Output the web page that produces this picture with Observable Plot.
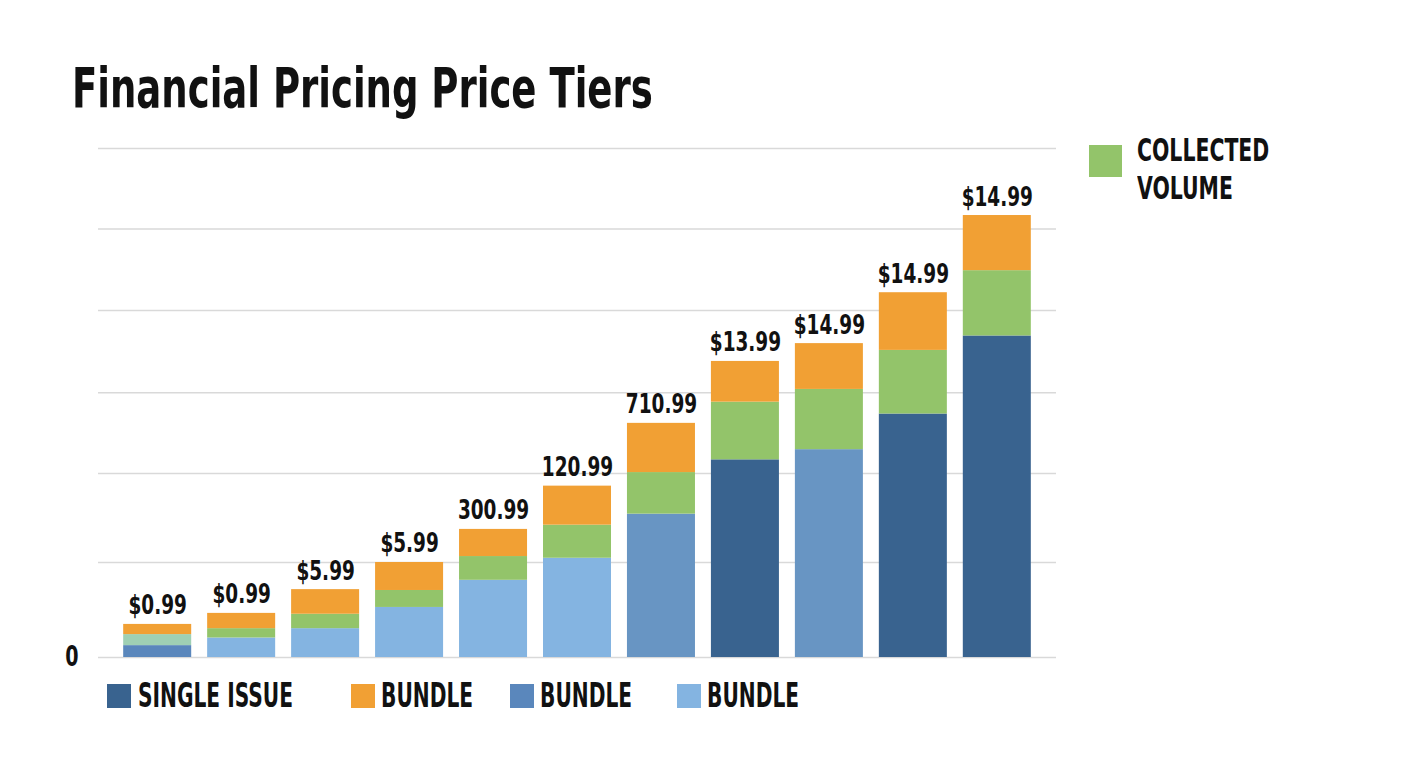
<!DOCTYPE html>
<html>
<head>
<meta charset="utf-8">
<script src="https://cdn.jsdelivr.net/npm/d3@7"></script>
<script src="https://cdn.jsdelivr.net/npm/@observablehq/plot@0.6"></script>
<style>
  html, body { margin: 0; padding: 0; background: #ffffff; }
  body { width: 1408px; height: 768px; position: relative; overflow: hidden;
         font-family: "DejaVu Sans Condensed", "Liberation Sans", sans-serif; font-weight: bold; color: #111; }
  .sq { display: inline-block; transform-origin: 0 0; white-space: nowrap; }
  #title { position: absolute; left: 72px; top: 60px; font-size: 56px; line-height: 1; transform: scaleX(0.735); }
  #chart { position: absolute; left: 0; top: 130px; }
  .sw { position: absolute; }
  .lt { position: absolute; font-size: 34px; line-height: 1; transform: scaleX(0.66); }
  .rt { position: absolute; font-size: 32px; line-height: 1; transform: scaleX(0.71); }
</style>
</head>
<body>
<div id="title" class="sq"></div>
<div id="chart"></div>
<div id="legends"></div>
<script>
// ---- data ----
const tiers = ["T1","T2","T3","T4","T5","T6","T7","T8","T9","T10","T11"];
const priceLabels = ["$0.99","$0.99","$5.99","$5.99","300.99","120.99","710.99","$13.99","$14.99","$14.99","$14.99"];
const baseValues   = [0.14, 0.23, 0.34, 0.59, 0.91, 1.17, 1.69, 2.33, 2.45, 2.87, 3.79];
const volumeValues = [0.13, 0.11, 0.17, 0.20, 0.28, 0.39, 0.49, 0.68, 0.71, 0.75, 0.77];
const bundleValues = [0.12, 0.18, 0.29, 0.33, 0.32, 0.46, 0.58, 0.48, 0.54, 0.68, 0.65];
const baseShade   = ["mid","light","light","light","light","light","medium","dark","medium","dark","dark"];
const volumeShade = ["teal","green","green","green","green","green","green","green","green","green","green"];
const gridTicks = [0, 1.12, 2.17, 3.12, 4.09, 5.05, 6];
const palette = {
  dark: "#39638f", medium: "#6895c3", mid: "#5a87bc", light: "#84b4e1",
  green: "#93c46a", teal: "#9fd0b4", orange: "#f1a034"
};
const bottomLegend = [
  {label: "SINGLE ISSUE", key: "dark"},
  {label: "BUNDLE", key: "orange"},
  {label: "BUNDLE", key: "mid"},
  {label: "BUNDLE", key: "light"}
];
const rightLegend = {label: ["COLLECTED", "VOLUME"], key: "green"};
const titleText = "Financial Pricing Price Tiers";

// ---- build table ----
const rows = [];
tiers.forEach((t, i) => {
  rows.push({tier: t, order: 0, value: baseValues[i], color: palette[baseShade[i]]});
  rows.push({tier: t, order: 1, value: volumeValues[i], color: palette[volumeShade[i]]});
  rows.push({tier: t, order: 2, value: bundleValues[i], color: palette.orange});
});
const totals = tiers.map((t, i) => ({tier: t, total: baseValues[i] + volumeValues[i] + bundleValues[i], label: priceLabels[i]}));

const FONT = `"DejaVu Sans Condensed", "Liberation Sans", sans-serif`;

const chart = Plot.plot({
  width: 1408,
  height: 545,
  marginLeft: 98,
  marginRight: 352,
  marginTop: 18,
  marginBottom: 18,
  style: {fontFamily: FONT, fontWeight: "bold", background: "transparent"},
  x: {domain: tiers, paddingInner: 0.19, paddingOuter: 0.30, round: false, axis: null},
  y: {domain: [0, 6], axis: null},
  color: {type: "identity"},
  marks: [
    Plot.ruleY(gridTicks, {stroke: "#d9d9d9", strokeWidth: 1.5}),
    Plot.barY(rows, {x: "tier", y: "value", fill: "color", order: "order", sort: null}),
    Plot.text(totals, {x: "tier", y: "total", text: "label", dy: -10, lineAnchor: "bottom",
      fontSize: 27, fontWeight: "bold", fill: "#111", fontFamily: FONT}),
    Plot.axisY([0], {tickSize: 0, tickPadding: 20, fontSize: 28, fontWeight: "bold", fill: "#111", tickFormat: d => String(d), label: null})
  ]
});
document.getElementById("chart").appendChild(chart);
// condense the chart's texts horizontally (narrow display face look)
chart.querySelectorAll("text").forEach(el => {
  const len = el.getComputedTextLength();
  if (len > 0) {
    el.setAttribute("textLength", (len * 0.76).toFixed(1));
    el.setAttribute("lengthAdjust", "spacingAndGlyphs");
  }
});

document.getElementById("title").textContent = titleText;

// legends
const L = document.getElementById("legends");
function add(tag, cls, css, text) {
  const e = document.createElement(tag);
  e.className = cls; e.style.cssText = css;
  if (text != null) e.textContent = text;
  L.appendChild(e); return e;
}
const swX = [107, 351, 510, 677];
const txX = [138, 381, 540, 707];
bottomLegend.forEach((d, i) => {
  add("span", "sw", `left:${swX[i]}px;top:684px;width:24px;height:24px;background:${palette[d.key]}`);
  add("span", "sq lt", `left:${txX[i]}px;top:678px`, d.label);
});
add("span", "sw", `left:1089px;top:145px;width:33px;height:32px;background:${palette[rightLegend.key]}`);
rightLegend.label.forEach((s, j) => {
  add("span", "sq rt", `left:1137px;top:${134 + j * 38}px`, s);
});
</script>
</body>
</html>
